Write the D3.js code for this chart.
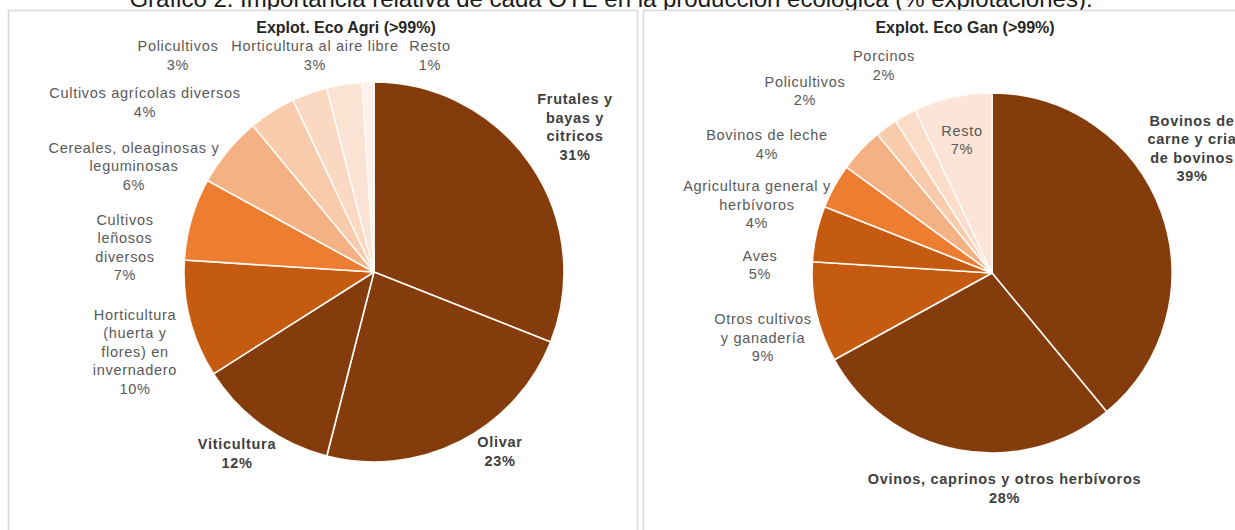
<!DOCTYPE html>
<html><head><meta charset="utf-8">
<script src="https://cdn.jsdelivr.net/npm/d3@7"></script>
<style>
html,body{margin:0;padding:0;background:#fff;}
svg{display:block;}
text{font-family:"Liberation Sans",Arial,sans-serif;}
</style></head>
<body>
<svg id="chart" width="1235" height="530"></svg>
<script>
// ---------- DATA ----------
const figureCaption = "Gráfico 2. Importancia relativa de cada OTE en la producción ecológica (% explotaciones).";

const agriTitle = "Explot. Eco Agri (>99%)";
const agriCategories = [
  "Frutales y\nbayas y\ncitricos",
  "Olivar",
  "Viticultura",
  "Horticultura\n(huerta y\nflores) en\ninvernadero",
  "Cultivos\nleñosos\ndiversos",
  "Cereales, oleaginosas y\nleguminosas",
  "Cultivos agrícolas diversos",
  "Policultivos",
  "Horticultura al aire libre",
  "Resto"
];
const agriValues = [31, 23, 12, 10, 7, 6, 4, 3, 3, 1];

const ganTitle = "Explot. Eco Gan (>99%)";
const ganCategories = [
  "Bovinos de\ncarne y cria\nde bovinos",
  "Ovinos, caprinos y otros herbívoros",
  "Otros cultivos\ny ganadería",
  "Aves",
  "Agricultura general y\nherbívoros",
  "Bovinos de leche",
  "Policultivos",
  "Porcinos",
  "Resto"
];
const ganValues = [39, 28, 9, 5, 4, 4, 2, 2, 7];

// ---------- STYLE / LAYOUT ----------
const agriColors = ["#843c0c","#843c0c","#843c0c","#c55a11","#ed7d31","#f4b183","#f8cbad","#fad8c2","#fbe3d4","#fdf1e9"];
const ganColors  = ["#843c0c","#843c0c","#c55a11","#c55a11","#ed7d31","#f4b183","#f8cbad","#fadcc8","#fce4d6"];
const agriBold = [true,true,true,false,false,false,false,false,false,false];
const ganBold  = [true,true,false,false,false,false,false,false,false];
// label block centres, relative to pie centre
const agriLabelOffsets = [[201,-145],[126,179.5],[-137,181.5],[-239,79.5],[-249,-24.5],[-240,-106],[-229,-169.5],[-196,-216.5],[-59,-216.5],[56,-216.5]];
const ganLabelOffsets  = [[200,-124.5],[12.5,215.5],[-229,64.5],[-232,-8],[-235,-68.5],[-225,-128.5],[-187,-182],[-108,-207.5],[-30,-133]];

const svg = d3.select("#chart");

// figure caption (cut off at top, as in the source image)
svg.append("text").attr("x", 611).attr("y", 7).attr("text-anchor","middle")
  .attr("font-size", 24).attr("fill","#1a1a1a").text(figureCaption);

// panels
svg.append("rect").attr("x",8.5).attr("y",10.5).attr("width",629).attr("height",530)
  .attr("fill","#fff").attr("stroke","#d9d9d9").attr("stroke-width",1.5);
svg.append("rect").attr("x",643.5).attr("y",10.5).attr("width",640).attr("height",530)
  .attr("fill","#fff").attr("stroke","#d9d9d9").attr("stroke-width",1.5);

function drawPie(cfg){
  const g = svg.append("g").attr("transform",`translate(${cfg.cx},${cfg.cy})`);
  const pie = d3.pie().sort(null).value(d=>d.v);
  const arc = d3.arc().innerRadius(0).outerRadius(cfg.r);
  const data = cfg.values.map((v,i)=>({v, i, name: cfg.cats[i]}));
  g.selectAll("path").data(pie(data)).join("path")
    .attr("d", arc)
    .attr("fill", d=>cfg.colors[d.data.i])
    .attr("stroke","#fffaf5").attr("stroke-width",1.6).attr("stroke-linejoin","round");

  const lh = 18.5;
  data.forEach((d,i)=>{
    const lines = d.name.split("\n").concat([d.v + "%"]);
    const [ox, oy] = cfg.offsets[i];
    const top = oy - (lines.length-1)*lh/2;
    const t = g.append("text").attr("text-anchor","middle")
      .attr("font-size", 14.5)
      .attr("letter-spacing", 0.7)
      .attr("font-weight", cfg.bold[i] ? "bold" : "normal")
      .attr("fill", cfg.bold[i] ? "#404040" : "#595959");
    lines.forEach((ln,k)=>{
      t.append("tspan").attr("x", ox).attr("y", top + k*lh).attr("dy","0.35em").text(ln);
    });
  });

  svg.append("text").attr("x", cfg.tx).attr("y", 27).attr("text-anchor","middle")
    .attr("dy","0.35em")
    .attr("font-size", 16).attr("font-weight","bold").attr("fill","#262626")
    .text(cfg.title);
}

drawPie({cx:374, cy:272, r:190, values:agriValues, cats:agriCategories, colors:agriColors,
  bold:agriBold, offsets:agriLabelOffsets, title:agriTitle, tx:346});
drawPie({cx:992, cy:273, r:180, values:ganValues, cats:ganCategories, colors:ganColors,
  bold:ganBold, offsets:ganLabelOffsets, title:ganTitle, tx:965});
</script>
</body></html>
